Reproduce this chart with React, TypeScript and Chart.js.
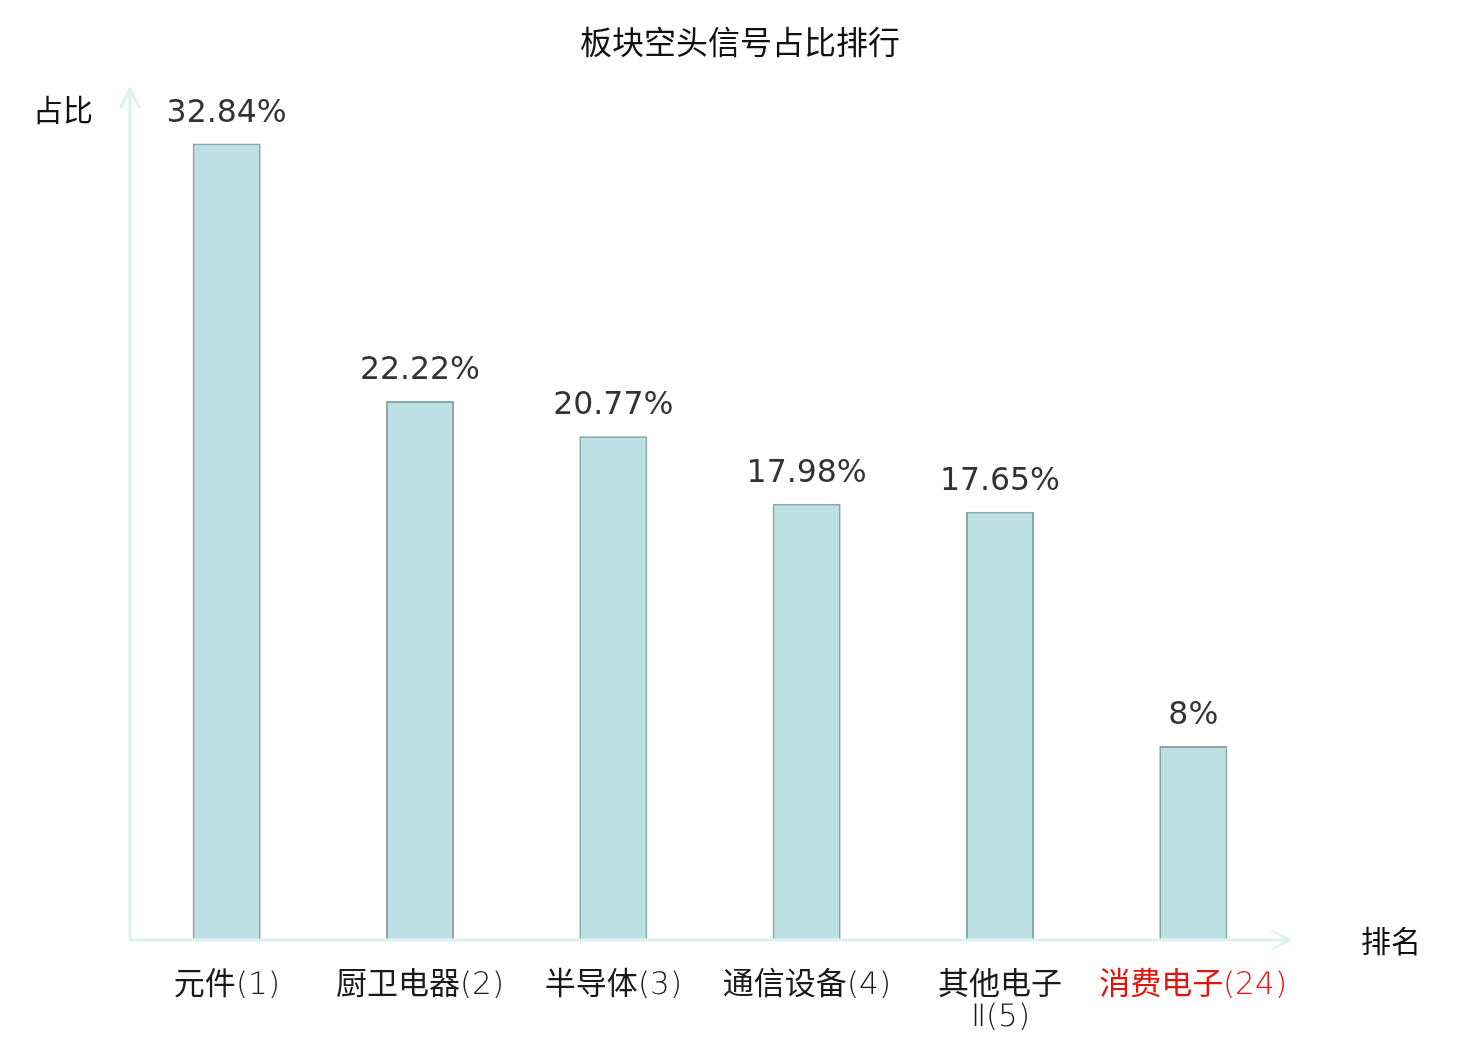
import { useEffect, useRef } from "react";
import { Chart, registerables } from "chart.js";
import type { Plugin } from "chart.js";

Chart.register(...registerables);

const title = "板块空头信号占比排行";
const categories: (string | string[])[] = [
  "元件(1)",
  "厨卫电器(2)",
  "半导体(3)",
  "通信设备(4)",
  ["其他电子", "Ⅱ(5)"],
  "消费电子(24)",
];
const shares = [32.84, 22.22, 20.77, 17.98, 17.65, 8];
const highlightIndex = 5;
const yAxisName = "占比";
const xAxisName = "排名";

const axisColor = "#ddf1ee";

// thin latin glyphs for the category labels, CJK falls back to Noto
const fontCss = `
@font-face {
  font-family: "TickLatin";
  src: local("DejaVu Sans ExtraLight"), local("DejaVuSans-ExtraLight");
  unicode-range: U+0000-00FF, U+2160-216F;
}
`;

// axes with arrows, axis names, title and value labels
const decorations: Plugin<"bar"> = {
  id: "decorations",
  afterDatasetsDraw(chart) {
    const { ctx, chartArea } = chart;
    const { left, right, top, bottom } = chartArea;
    ctx.save();

    ctx.strokeStyle = axisColor;
    ctx.lineWidth = 3;
    ctx.lineCap = "round";
    ctx.lineJoin = "round";
    ctx.beginPath();
    ctx.moveTo(left, bottom);
    ctx.lineTo(right, bottom);
    ctx.moveTo(right - 18, bottom - 9);
    ctx.lineTo(right, bottom);
    ctx.lineTo(right - 18, bottom + 9);
    ctx.moveTo(left, bottom);
    ctx.lineTo(left, top - 2);
    ctx.moveTo(left - 9, top + 16);
    ctx.lineTo(left, top - 2);
    ctx.lineTo(left + 9, top + 16);
    ctx.stroke();

    ctx.fillStyle = "#111";
    ctx.textAlign = "center";
    ctx.textBaseline = "middle";
    ctx.font = '32px "Noto Sans CJK SC"';
    ctx.fillText(title, 740, 42);
    ctx.font = '30px "Noto Sans CJK SC"';
    ctx.fillText(yAxisName, 63, 110);
    ctx.fillText(xAxisName, 1391, 941);

    ctx.fillStyle = "#333";
    ctx.font = '31.5px "DejaVu Sans"';
    const meta = chart.getDatasetMeta(0);
    meta.data.forEach((bar, i) => {
      ctx.fillText(shares[i] + "%", bar.x, bar.y - 30);
    });
    ctx.restore();
  },
};

export default function App() {
  const canvasRef = useRef<HTMLCanvasElement>(null);
  const chartRef = useRef<Chart<"bar"> | null>(null);

  useEffect(() => {
    document.body.style.margin = "0";
    let cancelled = false;

    const build = () => {
      if (cancelled || !canvasRef.current) return;
      if (chartRef.current) chartRef.current.destroy();

      chartRef.current = new Chart(canvasRef.current, {
        type: "bar",
        data: {
          labels: categories,
          datasets: [
            {
              data: shares,
              backgroundColor: "#bce0e3",
              borderColor: "#8aa6a7",
              borderWidth: 2,
              barPercentage: 0.352,
              categoryPercentage: 1,
            },
          ],
        },
        options: {
          animation: false,
          responsive: true,
          maintainAspectRatio: false,
          layout: { padding: { left: 130, right: 190, top: 91, bottom: 0 } },
          plugins: {
            legend: { display: false },
            tooltip: { enabled: false },
            title: { display: false },
          },
          scales: {
            x: {
              grid: { display: false, drawTicks: false },
              border: { display: false },
              ticks: {
                autoSkip: false,
                maxRotation: 0,
                padding: 30,
                font: {
                  family: '"TickLatin", "Noto Sans CJK SC"',
                  size: 31,
                  lineHeight: "32px",
                },
                color: (c) => (c.index === highlightIndex ? "#e8120c" : "#1a1a1a"),
              },
              afterFit: (scale) => {
                scale.height = 100;
              },
            },
            y: {
              display: false,
              min: 0,
              max: 35,
            },
          },
        },
        plugins: [decorations],
      });
    };

    document.fonts
      .load('31px "TickLatin"', "(1)Ⅱ")
      .then(build, build);

    return () => {
      cancelled = true;
      if (chartRef.current) {
        chartRef.current.destroy();
        chartRef.current = null;
      }
    };
  }, []);

  return (
    <div style={{ width: 1480, height: 1040, position: "relative", background: "#fff" }}>
      <style>{fontCss}</style>
      <canvas ref={canvasRef} />
    </div>
  );
}
